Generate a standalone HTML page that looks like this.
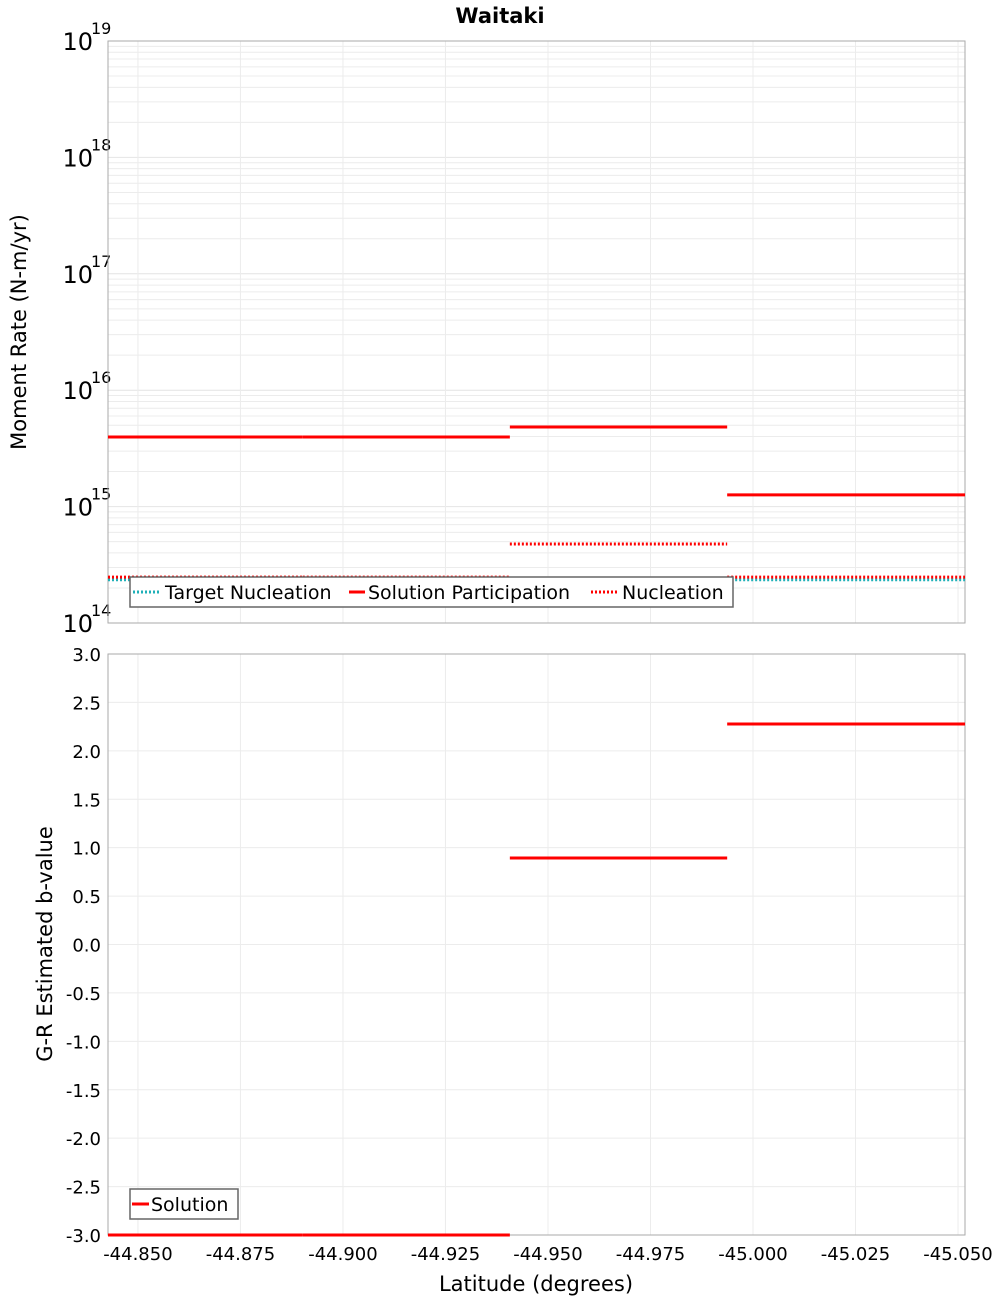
<!DOCTYPE html>
<html><head><meta charset="utf-8"><style>
body{margin:0;background:#fff;}
svg{display:block;font-family:"DejaVu Sans","Liberation Sans",sans-serif;}
</style></head><body>
<svg id="c" width="1000" height="1300" xmlns="http://www.w3.org/2000/svg">
<text x="500" y="23" text-anchor="middle" font-size="21" font-weight="bold">Waitaki</text>
<g id="topPanel"></g>
<g id="botPanel"></g>
<text x="536" y="1291" text-anchor="middle" font-size="21">Latitude (degrees)</text>
<text transform="translate(26,332) rotate(-90)" text-anchor="middle" font-size="21">Moment Rate (N-m/yr)</text>
<text transform="translate(52,944) rotate(-90)" text-anchor="middle" font-size="21">G-R Estimated b-value</text>
</svg>
<script>
const sectionEdges = [-44.8427, -44.8902, -44.9407, -44.9937, -45.0517];
const participation = [3.96e15, 3.96e15, 4.83e15, 1.26e15];
const nucleation = [2.48e14, 2.48e14, 4.77e14, 2.48e14];
const targetNucleation = [2.35e14, 2.35e14, 2.35e14, 2.35e14];
const bValues = [-3, -3, 0.893, 2.277];
const xTicks = [-44.850, -44.875, -44.900, -44.925, -44.950, -44.975, -45.000, -45.025, -45.050];
const logDecades = [14, 15, 16, 17, 18, 19];
const bTicks = [-3, -2.5, -2, -1.5, -1, -0.5, 0, 0.5, 1, 1.5, 2, 2.5, 3];

const NS = "http://www.w3.org/2000/svg";
const L = 108, R = 965;
const X0 = -44.8427, X1 = -45.0517;
const sx = v => L + (v - X0) / (X1 - X0) * (R - L);
const T0 = 41, T1 = 623;
const sy = v => T1 - (Math.log10(v) - 14) / 5 * (T1 - T0);
const B0 = 654, B1 = 1235;
const by = v => B1 - (v + 3) / 6 * (B1 - B0);

function mk(parent, tag, attrs, text) {
  const e = document.createElementNS(NS, tag);
  for (const k in attrs) e.setAttribute(k, attrs[k]);
  if (text !== undefined) e.textContent = text;
  parent.appendChild(e);
  return e;
}
const topG = document.getElementById('topPanel'), botG = document.getElementById('botPanel');

for (let d = 14; d < 19; d++) for (let m = 2; m <= 9; m++) {
  const y = sy(m * Math.pow(10, d));
  const g = mk(topG, 'line', {x1: L, x2: R, y1: y, y2: y, stroke: '#ececec', 'stroke-width': 1});
  
  
}
logDecades.forEach(d => {
  const y = sy(Math.pow(10, d));
  const g = mk(topG, 'line', {x1: L, x2: R, y1: y, y2: y, stroke: '#e4e4e4', 'stroke-width': 1});
  
  
  const t = mk(topG, 'text', {x: 93, y: y + 9, 'text-anchor': 'end', 'font-size': 24}, '10');
  
  
  const s = mk(topG, 'text', {x: 91, y: y - 7, 'font-size': 16}, String(d));
  
  
});
xTicks.forEach(v => {
  const x = sx(v);
  const g1 = mk(topG, 'line', {x1: x, x2: x, y1: T0, y2: T1, stroke: '#ececec'});
  
  
  const g2 = mk(botG, 'line', {x1: x, x2: x, y1: B0, y2: B1, stroke: '#ececec'});
  
  
  const t = mk(botG, 'text', {x: x, y: B1 + 25, 'text-anchor': 'middle', 'font-size': 18}, v.toFixed(3));
  
  
});
bTicks.forEach(v => {
  const y = by(v);
  const g = mk(botG, 'line', {x1: L, x2: R, y1: y, y2: y, stroke: '#ececec'});
  
  
  const t = mk(botG, 'text', {x: 101, y: y + 7, 'text-anchor': 'end', 'font-size': 18}, v.toFixed(1));
  
  
});
const f1 = mk(topG, 'rect', {x: L, y: T0, width: R - L, height: T1 - T0, fill: 'none', stroke: '#aaa'});


const f2 = mk(botG, 'rect', {x: L, y: B0, width: R - L, height: B1 - B0, fill: 'none', stroke: '#aaa'});



for (let i = 0; i < 4; i++) {
  const xa = sx(sectionEdges[i]), xb = sx(sectionEdges[i + 1]);
  let y = sy(targetNucleation[i]);
  const a = mk(topG, 'line', {x1: xa, x2: xb, y1: y, y2: y, stroke: '#1fb0b8', 'stroke-width': 3, 'stroke-dasharray': '2,2'});
  
  
  y = sy(nucleation[i]);
  const b = mk(topG, 'line', {x1: xa, x2: xb, y1: y, y2: y, stroke: '#f00', 'stroke-width': 3, 'stroke-dasharray': '2,2'});
  
  
  y = sy(participation[i]);
  const c = mk(topG, 'line', {x1: xa, x2: xb, y1: y, y2: y, stroke: '#f00', 'stroke-width': 3});
  
  
  y = by(bValues[i]);
  const d = mk(botG, 'line', {x1: xa, x2: xb, y1: y, y2: y, stroke: '#f00', 'stroke-width': 3});
  
  
}

const lg = mk(topG, 'g', {});


mk(lg, 'rect', {x: 130, y: 577, width: 603, height: 30, fill: '#fff', stroke: '#666', 'stroke-width': 1.5});
mk(lg, 'line', {x1: 133, x2: 161, y1: 592, y2: 592, stroke: '#1fb0b8', 'stroke-width': 3, 'stroke-dasharray': '2,2'});
mk(lg, 'text', {x: 165, y: 599, 'font-size': 19}, 'Target Nucleation');
mk(lg, 'line', {x1: 349, x2: 365, y1: 592, y2: 592, stroke: '#f00', 'stroke-width': 3});
mk(lg, 'text', {x: 368, y: 599, 'font-size': 19}, 'Solution Participation');
mk(lg, 'line', {x1: 591, x2: 618, y1: 592, y2: 592, stroke: '#f00', 'stroke-width': 3, 'stroke-dasharray': '2,2'});
mk(lg, 'text', {x: 622, y: 599, 'font-size': 19}, 'Nucleation');
const lg2 = mk(botG, 'g', {});


mk(lg2, 'rect', {x: 130, y: 1189, width: 108, height: 30, fill: '#fff', stroke: '#666', 'stroke-width': 1.5});
mk(lg2, 'line', {x1: 132, x2: 149, y1: 1204, y2: 1204, stroke: '#f00', 'stroke-width': 3});
mk(lg2, 'text', {x: 151, y: 1211, 'font-size': 19}, 'Solution');
</script>
</body></html>
